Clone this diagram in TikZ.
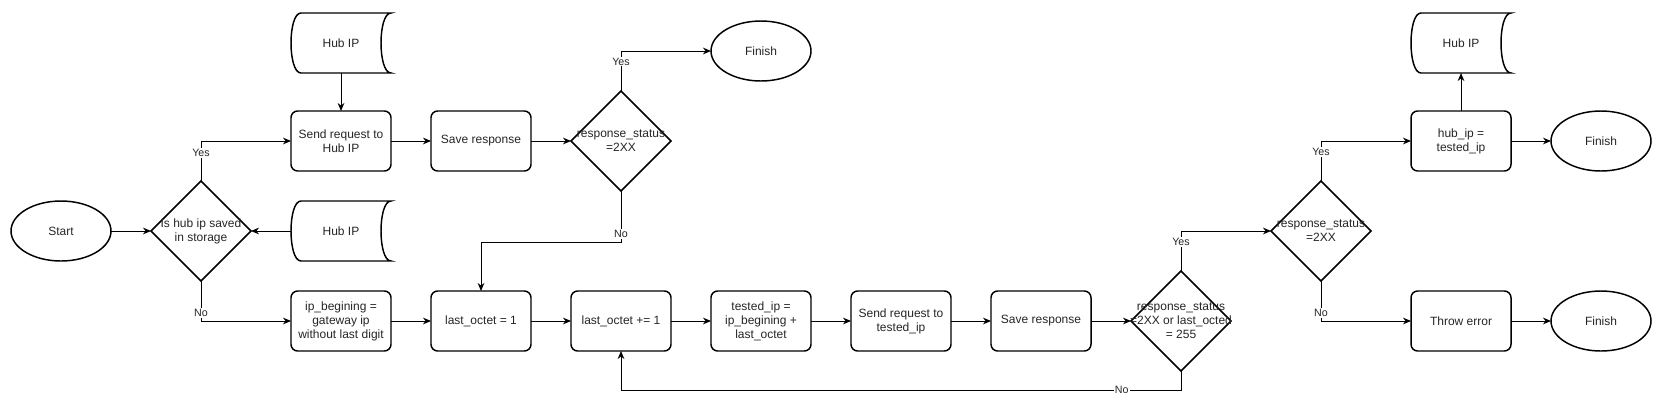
\documentclass[tikz,border=0pt]{standalone}
\usepackage{fontspec}
\setmainfont{Liberation Sans}
\usetikzlibrary{
    arrows.meta,
    positioning,
    calc,
    shapes.geometric
}
\tikzset{
  proc/.style     = {draw, rounded corners=5pt, line width=1.1pt, outer sep=0pt,
                     minimum width=75pt, minimum height=45pt, inner sep=1pt,
                     align=center, font=\fontsize{9}{10.5}\selectfont, text=black!85},
  term/.style     = {draw, ellipse, line width=1.1pt, outer sep=0pt, minimum width=75pt,
                     minimum height=45pt, inner sep=0pt,
                     font=\fontsize{9}{10.5}\selectfont, text=black!85},
  decision/.style = {draw, diamond, aspect=1, line width=1.1pt, outer sep=0pt,
                     minimum width=75pt, minimum height=75pt, inner sep=0pt},
  dtext/.style    = {align=center, inner sep=0pt,
                     font=\fontsize{9}{10.5}\selectfont, text=black!85},
  store/.style    = {minimum width=75pt, minimum height=45pt, inner sep=0pt, outer sep=0pt,
                     font=\fontsize{9}{10.5}\selectfont, text=black!85},
  elabel/.style   = {fill=white, inner sep=0.8pt,
                     font=\fontsize{8}{9}\selectfont, text=black!85},
  arr/.style      = {-{Stealth[length=6pt, width=5pt]}, line width=0.7pt}
}

\begin{document}
\begin{tikzpicture}[x=0.75pt, y=-0.75pt, node distance=30pt]
    \fill[white] (0,0) rectangle (1662,411);

    \node[term] (start) at (61,231) {Start};
    \node[decision, right=of start,
          label={[dtext]center:{Is hub ip saved\\in storage}}] (d1) {};
    \node[store, right=of d1] (hub2) {Hub IP};

    \node[proc] (send1) at ($(d1)+(140,-90)$) {Send request to\\Hub IP};
    \node[store, above=28.5pt of send1] (hub1) {Hub IP};
    \node[proc, right=of send1] (save1) {Save response};
    \node[decision, right=of save1,
          label={[dtext]center:{response\_status\\=2XX}}] (d2) {};
    \node[term] (fin1) at ($(d2)+(140,-90)$) {Finish};

    \node[proc] (ipb) at ($(d1)+(140,90)$) {ip\_begining =\\gateway ip\\without last digit};
    \node[proc, right=of ipb] (last1) {last\_octet = 1};
    \node[proc, right=of last1] (inc) {last\_octet += 1};
    \node[proc, right=of inc] (tested) {tested\_ip =\\ip\_begining +\\last\_octet};
    \node[proc, right=of tested] (send2) {Send request to\\tested\_ip};
    \node[proc, right=of send2] (save2) {Save response};
    \node[decision, right=of save2,
          label={[dtext]center:{response\_status\\=2XX or last\_octed\\= 255}}] (d3) {};

    \node[decision, label={[dtext]center:{response\_status\\=2XX}}]
          (d4) at ($(d3)+(140,-90)$) {};
    \node[proc] (hubset) at ($(d4)+(140,-90)$) {hub\_ip =\\tested\_ip};
    \node[store, above=28.5pt of hubset] (hub3) {Hub IP};
    \node[term, right=of hubset] (fin2) {Finish};
    \node[proc] (err) at ($(d4)+(140,90)$) {Throw error};
    \node[term, right=of err] (fin3) {Finish};

    \foreach \n in {hub1,hub2,hub3}
      \draw[line width=1.1pt]
        ($(\n.north west)+(7.5pt,0)$) -- (\n.north east)
        .. controls ($(\n.north east)+(-10pt,0)$) and ($(\n.south east)+(-10pt,0)$) .. (\n.south east)
        -- ($(\n.south west)+(7.5pt,0)$)
        .. controls ($(\n.south west)+(-2.5pt,0)$) and ($(\n.north west)+(-2.5pt,0)$) .. cycle;

    \draw[arr] (start) -- (d1);
    \draw[arr] (hub2) -- (d1);
    \draw[arr] (hub1) -- (send1);
    \draw[arr] (d1.north) |- node[elabel, pos=0.35] {Yes} (send1.west);
    \draw[arr] (d1.south) |- node[elabel, pos=0.4] {No} (ipb.west);
    \draw[arr] (send1) -- (save1);
    \draw[arr] (save1) -- (d2);
    \draw[arr] (d2.north) |- node[elabel, pos=0.37] {Yes} (fin1.west);
    \draw[arr] (d2.south) -- node[elabel, pos=0.84] {No} ++(0,51) -| (last1.north);
    \draw[arr] (ipb) -- (last1);
    \draw[arr] (last1) -- (inc);
    \draw[arr] (inc) -- (tested);
    \draw[arr] (tested) -- (send2);
    \draw[arr] (send2) -- (save2);
    \draw[arr] (save2) -- (d3);
    \draw[arr] (d3.south) -- ++(0,19) -| node[elabel, pos=0.053] {No} (inc.south);
    \draw[arr] (d3.north) |- node[elabel, pos=0.36] {Yes} (d4.west);
    \draw[arr] (d4.north) |- node[elabel, pos=0.36] {Yes} (hubset.west);
    \draw[arr] (d4.south) |- node[elabel, pos=0.4] {No} (err.west);
    \draw[arr] (hubset) -- (hub3);
    \draw[arr] (hubset) -- (fin2);
    \draw[arr] (err) -- (fin3);
\end{tikzpicture}
\end{document}
